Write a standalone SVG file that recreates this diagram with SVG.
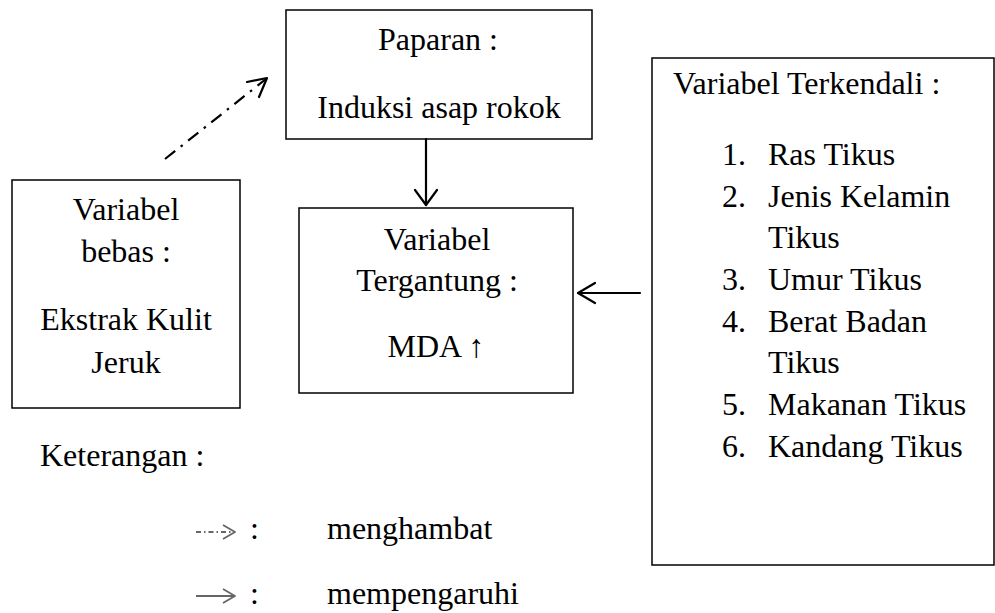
<svg xmlns="http://www.w3.org/2000/svg" width="995" height="613" viewBox="0 0 995 613">
  <style>
    text { font-family: "Liberation Serif", "Times New Roman", serif; font-size: 32px; fill: #000; }
    .c { text-anchor: middle; }
    .box { fill: #fff; stroke: #000; stroke-width: 1.5; }
    .ln { fill: none; stroke: #000; stroke-width: 2.2; stroke-linecap: round; stroke-linejoin: round; }
    .dd { stroke-dasharray: 13 7 2.5 7; stroke-linecap: butt; }
    .lg { fill: none; stroke: #666; stroke-width: 1.8; stroke-linejoin: round; }
  </style>

  <rect width="995" height="613" fill="#fff"/>

  <g id="paparan">
    <rect class="box" x="286" y="10" width="306" height="129"/>
    <text class="c" x="438" y="50">Paparan :</text>
    <text class="c" x="439" y="118">Induksi asap rokok</text>
  </g>

  <g id="variabel-bebas">
    <rect class="box" x="12" y="180" width="228" height="228"/>
    <text class="c" x="126" y="220">Variabel</text>
    <text class="c" x="126" y="262">bebas :</text>
    <text class="c" x="126" y="330">Ekstrak Kulit</text>
    <text class="c" x="126" y="373">Jeruk</text>
  </g>

  <g id="variabel-tergantung">
    <rect class="box" x="299" y="208" width="274" height="185"/>
    <text class="c" x="437" y="250">Variabel</text>
    <text class="c" x="437" y="291">Tergantung :</text>
    <text class="c" x="436" y="357">MDA ↑</text>
  </g>

  <g id="variabel-terkendali">
    <rect class="box" x="652" y="58" width="342" height="507"/>
    <text x="673" y="94">Variabel Terkendali :</text>
    <text x="722" y="165">1.</text><text x="768" y="165">Ras Tikus</text>
    <text x="722" y="207">2.</text><text x="768" y="207">Jenis Kelamin</text>
    <text x="768" y="248">Tikus</text>
    <text x="722" y="290">3.</text><text x="768" y="290">Umur Tikus</text>
    <text x="722" y="332">4.</text><text x="768" y="332">Berat Badan</text>
    <text x="768" y="373">Tikus</text>
    <text x="722" y="415">5.</text><text x="768" y="415">Makanan Tikus</text>
    <text x="722" y="457">6.</text><text x="768" y="457">Kandang Tikus</text>
  </g>

  <g id="connectors">
    <!-- inhibition: extract to exposure -->
    <line class="ln dd" x1="165" y1="159" x2="266" y2="79"/>
    <polyline class="ln" points="247,82 267,78 259,97"/>
    <!-- exposure to dependent variable -->
    <line class="ln" x1="426" y1="139" x2="426" y2="205"/>
    <polyline class="ln" points="415,190 426,205 437,190"/>
    <!-- controlled variables to dependent variable -->
    <line class="ln" x1="640" y1="293" x2="578" y2="293"/>
    <polyline class="ln" points="595,283 578,293 595,303"/>
  </g>

  <g id="legend">
    <text x="40" y="466">Keterangan :</text>
    <line class="lg" x1="196" y1="532" x2="234" y2="532" stroke-dasharray="5 3 1.5 3"/>
    <polyline class="lg" points="223,525 235,532 223,539"/>
    <text x="250" y="539">:</text>
    <text x="327" y="539">menghambat</text>
    <line class="lg" x1="196" y1="596" x2="234" y2="596"/>
    <polyline class="lg" points="223,589 235,596 223,603"/>
    <text x="250" y="604">:</text>
    <text x="327" y="604">mempengaruhi</text>
  </g>
</svg>
